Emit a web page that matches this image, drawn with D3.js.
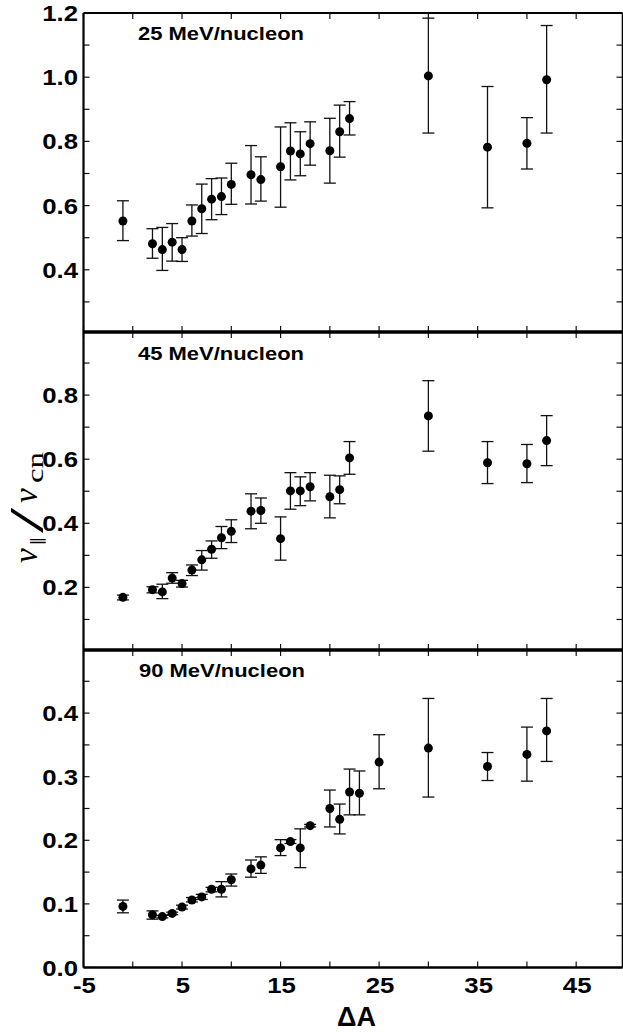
<!DOCTYPE html>
<html><head><meta charset="utf-8">
<script src="https://cdn.jsdelivr.net/npm/d3@7"></script>
<style>html,body{margin:0;padding:0;background:#fff;}svg{display:block;}</style>
</head><body>
<svg id="chart" width="623" height="1032"></svg>
<script>
// ---- data ----
const dA = [-1,2,3,4,5,6,7,8,9,10,12,13,15,16,17,18,20,21,22,30,36,40,42];
const dA90 = [-1,2,3,4,5,6,7,8,9,10,12,13,15,16,17,18,20,21,22,23,25,30,36,40,42];

const v25    = [0.552,0.481,0.463,0.486,0.463,0.552,0.590,0.620,0.628,0.666,0.696,0.681,0.721,0.770,0.761,0.793,0.771,0.830,0.871,1.004,0.782,0.794,0.992];
const v25Hi  = [0.615,0.528,0.532,0.544,0.500,0.602,0.667,0.684,0.686,0.732,0.787,0.752,0.845,0.858,0.830,0.861,0.872,0.913,0.924,1.184,0.971,0.874,1.161];
const v25Lo  = [0.491,0.436,0.398,0.427,0.426,0.505,0.513,0.556,0.572,0.604,0.605,0.614,0.595,0.680,0.693,0.726,0.670,0.751,0.820,0.826,0.593,0.714,0.826];

const v45    = [0.169,0.193,0.186,0.229,0.212,0.254,0.286,0.319,0.355,0.375,0.438,0.440,0.352,0.501,0.501,0.514,0.483,0.505,0.604,0.735,0.589,0.586,0.658];
const v45Hi  = [0.176,0.202,0.210,0.246,0.222,0.270,0.315,0.345,0.390,0.411,0.492,0.479,0.420,0.558,0.545,0.558,0.550,0.548,0.655,0.845,0.655,0.646,0.736];
const v45Lo  = [0.161,0.183,0.165,0.213,0.201,0.237,0.254,0.291,0.321,0.340,0.383,0.400,0.285,0.444,0.455,0.470,0.417,0.461,0.553,0.625,0.524,0.527,0.580];

const v90    = [0.096,0.083,0.080,0.085,0.095,0.106,0.111,0.123,0.123,0.138,0.155,0.161,0.188,0.198,0.188,0.223,0.250,0.233,0.276,0.274,0.323,0.345,0.316,0.335,0.372];
const v90Hi  = [0.106,0.089,0.082,0.087,0.098,0.110,0.115,0.126,0.135,0.147,0.169,0.174,0.201,0.201,0.218,0.225,0.279,0.257,0.312,0.309,0.366,0.423,0.338,0.378,0.423];
const v90Lo  = [0.086,0.076,0.078,0.083,0.092,0.103,0.107,0.119,0.111,0.128,0.142,0.148,0.176,0.195,0.157,0.221,0.221,0.210,0.240,0.240,0.281,0.268,0.294,0.293,0.324];

const panelTitles = ["25 MeV/nucleon","45 MeV/nucleon","90 MeV/nucleon"];
const xTicks = [-5,0,5,10,15,20,25,30,35,40,45];
const xTickLabels = [-5,5,15,25,35,45];
const yTicks25 = [0.3,0.4,0.5,0.6,0.7,0.8,0.9,1.0,1.1];
const yLabels25 = [0.4,0.6,0.8,1.0,1.2];
const yTicks45 = [0.1,0.2,0.3,0.4,0.5,0.6,0.7,0.8,0.9];
const yLabels45 = [0.2,0.4,0.6,0.8];
const yTicks90 = [0.05,0.1,0.15,0.2,0.25,0.3,0.35,0.4,0.45];
const yLabels90 = [0.0,0.1,0.2,0.3,0.4];

// ---- layout ----
const svg = d3.select('#chart');
const L = 83.5, R = 622.5;
const x = d3.scaleLinear().domain([-5, 49.7]).range([L, R]);

const panels = [
  {xs: dA,   v: v25, hi: v25Hi, lo: v25Lo, dom:[0.2062,1.2],   rng:[332,13],    ticks:yTicks25, labels:yLabels25, title:panelTitles[0], tx:138, ty:39.5},
  {xs: dA,   v: v45, hi: v45Hi, lo: v45Lo, dom:[0.0047,0.9969], rng:[650,332],  ticks:yTicks45, labels:yLabels45, title:panelTitles[1], tx:138, ty:359.5},
  {xs: dA90, v: v90, hi: v90Hi, lo: v90Lo, dom:[0,0.4992],     rng:[967.5,650], ticks:yTicks90, labels:yLabels90, title:panelTitles[2], tx:139, ty:677}
];

const sansBold = "'Liberation Sans', Arial, Helvetica, sans-serif";

function stretch(sel, f){
  sel.each(function(){
    const w = this.getComputedTextLength();
    d3.select(this).attr('textLength', w*f).attr('lengthAdjust','spacingAndGlyphs');
  });
}

panels.forEach((p, pi) => {
  const y = d3.scaleLinear().domain(p.dom).range(p.rng);
  const g = svg.append('g');
  const top = p.rng[1], bot = p.rng[0];
  const tl = 6;

  g.selectAll('.xt').data(xTicks).enter().append('line')
    .attr('x1', d => x(d)).attr('x2', d => x(d))
    .attr('y1', top).attr('y2', top + tl)
    .attr('stroke','#111').attr('stroke-width',1.2);
  g.selectAll('.xb').data(xTicks).enter().append('line')
    .attr('x1', d => x(d)).attr('x2', d => x(d))
    .attr('y1', bot).attr('y2', bot - tl)
    .attr('stroke','#111').attr('stroke-width',1.2);
  const allY = Array.from(new Set(p.ticks.concat(p.labels)));
  g.selectAll('.yl').data(allY).enter().append('line')
    .attr('x1', L).attr('x2', L + tl)
    .attr('y1', d => y(d)).attr('y2', d => y(d))
    .attr('stroke','#111').attr('stroke-width',1.2);
  g.selectAll('.yr').data(allY).enter().append('line')
    .attr('x1', R).attr('x2', R - tl)
    .attr('y1', d => y(d)).attr('y2', d => y(d))
    .attr('stroke','#111').attr('stroke-width',1.2);

  const yt = g.selectAll('.ytl').data(p.labels).enter().append('text')
    .attr('x', 78).attr('y', d => y(d) + 8)
    .attr('text-anchor','end')
    .style('font-family', sansBold).style('font-weight','700').style('font-size','22px')
    .attr('fill','#000')
    .text(d => d3.format('.1f')(d));
  stretch(yt, 1.17);

  const t = g.append('text').attr('x', p.tx).attr('y', p.ty)
    .style('font-family', sansBold).style('font-weight','700').style('font-size','18px')
    .attr('fill','#000').text(p.title);
  t.attr('textLength', 166).attr('lengthAdjust','spacingAndGlyphs');

  const idx = d3.range(p.xs.length);
  const cap = 6;
  const eb = g.selectAll('.eb').data(idx).enter().append('g');
  eb.append('line')
    .attr('x1', i => x(p.xs[i])).attr('x2', i => x(p.xs[i]))
    .attr('y1', i => y(p.hi[i])).attr('y2', i => y(p.lo[i]))
    .attr('stroke','#111').attr('stroke-width',1.3);
  eb.append('line')
    .attr('x1', i => x(p.xs[i]) - cap).attr('x2', i => x(p.xs[i]) + cap)
    .attr('y1', i => y(p.hi[i])).attr('y2', i => y(p.hi[i]))
    .attr('stroke','#111').attr('stroke-width',1.3);
  eb.append('line')
    .attr('x1', i => x(p.xs[i]) - cap).attr('x2', i => x(p.xs[i]) + cap)
    .attr('y1', i => y(p.lo[i])).attr('y2', i => y(p.lo[i]))
    .attr('stroke','#111').attr('stroke-width',1.3);
  g.selectAll('.pt').data(idx).enter().append('circle')
    .attr('cx', i => x(p.xs[i])).attr('cy', i => y(p.v[i]))
    .attr('r', 4.5).attr('fill','#000');

  g.append('line').attr('x1',L).attr('x2',L).attr('y1',top).attr('y2',bot).attr('stroke','#000').attr('stroke-width',2.2);
  g.append('line').attr('x1',R).attr('x2',R).attr('y1',top).attr('y2',bot).attr('stroke','#000').attr('stroke-width',1.6);
  g.append('line').attr('x1',L).attr('x2',R).attr('y1',top).attr('y2',top).attr('stroke','#000').attr('stroke-width', pi===0 ? 1.8 : 3.2);
  g.append('line').attr('x1',L).attr('x2',R).attr('y1',bot).attr('y2',bot).attr('stroke','#000').attr('stroke-width', pi===2 ? 2.4 : 3.2);
});

const xl = svg.selectAll('.xtl').data(xTickLabels).enter().append('text')
  .attr('x', d => x(d) + 1).attr('y', 993)
  .attr('text-anchor','middle')
  .style('font-family', sansBold).style('font-weight','700').style('font-size','22px')
  .attr('fill','#000').text(d => d);
stretch(xl, 1.17);

svg.append('text').attr('x', 356.5).attr('y', 1026)
  .attr('text-anchor','middle')
  .style('font-family', sansBold).style('font-weight','700').style('font-size','27px')
  .attr('fill','#000').text('ΔA');

const serif = "'Liberation Serif', 'DejaVu Serif', serif";
const yl = svg.append('g').attr('transform','translate(37,563) rotate(-90)')
  .style('font-family', serif).attr('fill','#000');
yl.append('text').attr('x',0).attr('y',0).style('font-style','italic').style('font-size','33px').text('v');
yl.append('text').attr('x',18).attr('y',7).style('font-size','17px').text('∥');
yl.append('text').attr('transform','translate(30,6) scale(1.9,1)').style('font-size','48px').text('/');
yl.append('text').attr('x',60).attr('y',0).style('font-style','italic').style('font-size','33px').text('v');
yl.append('text').attr('x',80).attr('y',6).style('font-size','24px')
  .attr('textLength',31).attr('lengthAdjust','spacingAndGlyphs').text('cn');
</script>
</body></html>
